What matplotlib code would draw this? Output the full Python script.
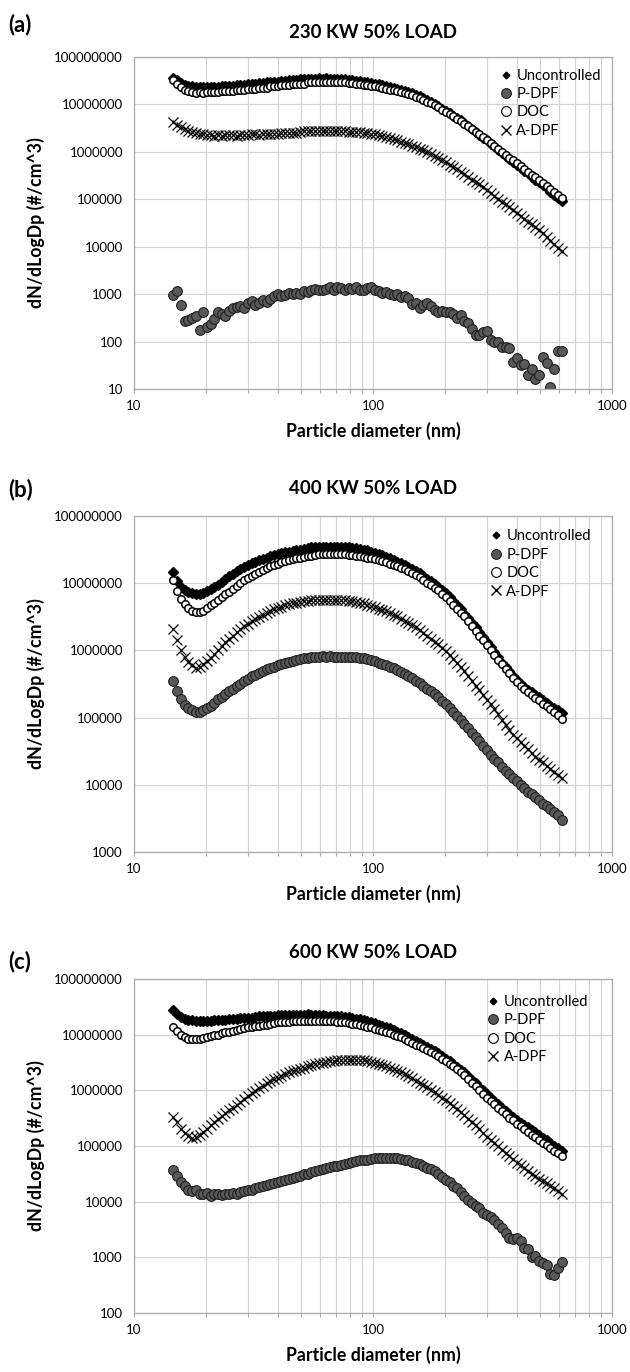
import matplotlib
matplotlib.use("Agg")
import matplotlib.pyplot as plt
from matplotlib.lines import Line2D
from matplotlib.ticker import FixedLocator, FuncFormatter, NullFormatter

plt.rcParams['font.family'] = ['Lato', 'DejaVu Sans']

# SMPS channel midpoints (nm)
diameter = [14.6, 15.1, 15.7, 16.3, 16.8, 17.5, 18.1, 18.8, 19.5, 20.2,
            20.9, 21.7, 22.5, 23.3, 24.1, 25.0, 25.9, 26.9, 27.9, 28.9,
            30.0, 31.1, 32.2, 33.4, 34.6, 35.9, 37.2, 38.5, 40.0, 41.4,
            42.9, 44.5, 46.1, 47.8, 49.6, 51.4, 53.3, 55.2, 57.3, 59.4,
            61.5, 63.8, 66.1, 68.5, 71.0, 73.7, 76.4, 79.1, 82.0, 85.1,
            88.2, 91.4, 94.7, 98.2, 101.8, 105.5, 109.4, 113.4, 117.6, 121.9,
            126.3, 131.0, 135.8, 140.7, 145.9, 151.2, 156.8, 162.5, 168.5, 174.7,
            181.1, 187.7, 194.6, 201.7, 209.1, 216.7, 224.7, 232.9, 241.4, 250.3,
            259.5, 269.0, 278.8, 289.0, 299.6, 310.6, 322.0, 333.8, 346.0, 358.7,
            371.8, 385.4, 399.5, 414.2, 429.4, 445.1, 461.4, 478.3, 495.8, 514.0,
            532.8, 552.3, 572.5, 593.5, 615.3]

series_names = ["Uncontrolled", "P-DPF", "DOC", "A-DPF"]

# ---- (a) 230 kW ----
unc_a = [3.6e7, 3.2e7, 2.8e7, 2.6e7, 2.5e7, 2.4e7, 2.35e7, 2.3e7, 2.3e7, 2.35e7,
         2.3e7, 2.35e7, 2.35e7, 2.4e7, 2.4e7, 2.45e7, 2.5e7, 2.55e7, 2.6e7, 2.6e7,
         2.7e7, 2.75e7, 2.75e7, 2.8e7, 2.8e7, 2.9e7, 2.9e7, 2.95e7, 2.95e7, 3.1e7,
         3.1e7, 3.2e7, 3.2e7, 3.2e7, 3.4e7, 3.4e7, 3.4e7, 3.5e7, 3.5e7, 3.55e7,
         3.5e7, 3.55e7, 3.5e7, 3.5e7, 3.45e7, 3.45e7, 3.4e7, 3.3e7, 3.3e7, 3.15e7,
         3.15e7, 3.0e7, 3.0e7, 2.8e7, 2.75e7, 2.65e7, 2.55e7, 2.45e7, 2.35e7, 2.25e7,
         2.15e7, 2.05e7, 1.95e7, 1.8e7, 1.7e7, 1.6e7, 1.5e7, 1.35e7, 1.25e7, 1.1e7,
         1.0e7, 9.1e6, 8.1e6, 7.2e6, 6.5e6, 5.8e6, 5.1e6, 4.6e6, 4.0e6, 3.5e6,
         3.0e6, 2.6e6, 2.3e6, 2.0e6, 1.74e6, 1.5e6, 1.3e6, 1.12e6, 9.5e5, 8.3e5,
         7.1e5, 6.2e5, 5.2e5, 4.6e5, 4.0e5, 3.5e5, 3.0e5, 2.6e5, 2.3e5, 2.0e5,
         1.7e5, 1.45e5, 1.26e5, 1.07e5, 9.1e4]
pdpf_a = [970, 1170, 600, 270, 280, 310, 340, 175, 420, 200,
          240, 300, 420, 380, 350, 450, 520, 540, 560, 520,
          640, 700, 600, 650, 760, 690, 780, 900, 1000, 900,
          950, 1050, 1000, 1080, 1000, 1150, 1100, 1200, 1300, 1250,
          1200, 1280, 1400, 1250, 1400, 1380, 1200, 1350, 1300, 1420,
          1200, 1250, 1350, 1400, 1250, 1150, 1050, 1100, 1000, 950,
          1000, 880, 900, 820, 620, 660, 520, 600, 640, 560,
          470, 430, 440, 420, 430, 380, 320, 370, 270, 250,
          180, 140, 140, 160, 165, 110, 100, 100, 75, 75,
          74, 38, 44, 32, 34, 20, 26, 16, 20, 48,
          36, 11, 26, 64, 64]
doc_a = [3.2e7, 2.7e7, 2.3e7, 2.05e7, 1.9e7, 1.8e7, 1.75e7, 1.8e7, 1.75e7, 1.8e7,
         1.85e7, 1.8e7, 1.85e7, 1.9e7, 1.9e7, 1.9e7, 1.9e7, 2.0e7, 2.0e7, 2.0e7,
         2.15e7, 2.15e7, 2.15e7, 2.25e7, 2.25e7, 2.25e7, 2.4e7, 2.4e7, 2.4e7, 2.55e7,
         2.55e7, 2.55e7, 2.7e7, 2.7e7, 2.7e7, 2.7e7, 2.9e7, 2.9e7, 3.0e7, 2.95e7,
         3.0e7, 2.95e7, 3.0e7, 2.95e7, 2.9e7, 2.9e7, 2.9e7, 2.8e7, 2.8e7, 2.7e7,
         2.7e7, 2.6e7, 2.6e7, 2.45e7, 2.4e7, 2.3e7, 2.25e7, 2.15e7, 2.05e7, 2.0e7,
         1.9e7, 1.8e7, 1.75e7, 1.65e7, 1.55e7, 1.45e7, 1.35e7, 1.26e7, 1.15e7, 1.05e7,
         9.5e6, 8.7e6, 7.8e6, 7.0e6, 6.3e6, 5.6e6, 5.0e6, 4.5e6, 3.9e6, 3.45e6,
         3.0e6, 2.65e6, 2.35e6, 2.05e6, 1.8e6, 1.55e6, 1.35e6, 1.17e6, 1.0e6, 8.7e5,
         7.6e5, 6.6e5, 5.7e5, 5.0e5, 4.4e5, 3.8e5, 3.3e5, 2.9e5, 2.5e5, 2.2e5,
         1.9e5, 1.65e5, 1.45e5, 1.25e5, 1.07e5]
adpf_a = [4.2e6, 3.7e6, 3.3e6, 3.0e6, 2.8e6, 2.65e6, 2.5e6, 2.4e6, 2.35e6, 2.3e6,
          2.25e6, 2.2e6, 2.25e6, 2.2e6, 2.25e6, 2.3e6, 2.25e6, 2.2e6, 2.25e6, 2.3e6,
          2.25e6, 2.35e6, 2.35e6, 2.3e6, 2.4e6, 2.35e6, 2.4e6, 2.35e6, 2.4e6, 2.5e6,
          2.5e6, 2.45e6, 2.55e6, 2.5e6, 2.6e6, 2.7e6, 2.75e6, 2.7e6, 2.8e6, 2.75e6,
          2.8e6, 2.75e6, 2.8e6, 2.8e6, 2.75e6, 2.75e6, 2.7e6, 2.65e6, 2.65e6, 2.6e6,
          2.6e6, 2.5e6, 2.45e6, 2.4e6, 2.35e6, 2.25e6, 2.15e6, 2.05e6, 1.95e6, 1.85e6,
          1.8e6, 1.65e6, 1.55e6, 1.45e6, 1.35e6, 1.26e6, 1.17e6, 1.07e6, 9.8e5, 8.9e5,
          8.1e5, 7.4e5, 6.8e5, 6.0e5, 5.4e5, 4.8e5, 4.3e5, 3.8e5, 3.4e5, 3.0e5,
          2.6e5, 2.3e5, 2.05e5, 1.8e5, 1.55e5, 1.35e5, 1.17e5, 1.02e5, 8.9e4, 7.8e4,
          6.8e4, 5.9e4, 5.1e4, 4.5e4, 3.9e4, 3.4e4, 2.95e4, 2.55e4, 2.2e4, 1.9e4,
          1.6e4, 1.35e4, 1.15e4, 9.6e3, 8.1e3]

# ---- (b) 400 kW ----
unc_b = [1.45e7, 1.07e7, 8.9e6, 7.9e6, 7.4e6, 7.1e6, 6.9e6, 6.9e6, 7.1e6, 7.6e6,
         8.1e6, 8.7e6, 9.5e6, 1.05e7, 1.15e7, 1.26e7, 1.38e7, 1.5e7, 1.6e7, 1.75e7,
         1.85e7, 2.0e7, 2.1e7, 2.2e7, 2.3e7, 2.4e7, 2.5e7, 2.6e7, 2.7e7, 2.8e7,
         2.9e7, 2.95e7, 3.0e7, 3.1e7, 3.15e7, 3.2e7, 3.3e7, 3.4e7, 3.4e7, 3.45e7,
         3.45e7, 3.4e7, 3.45e7, 3.4e7, 3.45e7, 3.4e7, 3.4e7, 3.4e7, 3.35e7, 3.3e7,
         3.2e7, 3.15e7, 3.1e7, 2.95e7, 2.8e7, 2.7e7, 2.6e7, 2.45e7, 2.35e7, 2.25e7,
         2.1e7, 2.0e7, 1.85e7, 1.75e7, 1.6e7, 1.5e7, 1.4e7, 1.3e7, 1.17e7, 1.07e7,
         9.8e6, 8.9e6, 7.9e6, 7.1e6, 6.2e6, 5.4e6, 4.7e6, 4.1e6, 3.5e6, 3.0e6,
         2.6e6, 2.2e6, 1.85e6, 1.6e6, 1.35e6, 1.12e6, 9.5e5, 8.1e5, 6.6e5, 5.6e5,
         4.9e5, 4.2e5, 3.6e5, 3.2e5, 2.9e5, 2.6e5, 2.4e5, 2.2e5, 2.0e5, 1.8e5,
         1.66e5, 1.5e5, 1.4e5, 1.3e5, 1.17e5]
pdpf_b = [3.5e5, 2.5e5, 1.86e5, 1.55e5, 1.38e5, 1.29e5, 1.2e5, 1.23e5, 1.29e5, 1.38e5,
          1.5e5, 1.66e5, 1.86e5, 2.05e5, 2.25e5, 2.45e5, 2.7e5, 2.95e5, 3.2e5, 3.5e5,
          3.8e5, 4.1e5, 4.35e5, 4.65e5, 5.0e5, 5.25e5, 5.5e5, 5.75e5, 6.0e5, 6.3e5,
          6.6e5, 6.8e5, 7.0e5, 7.2e5, 7.4e5, 7.6e5, 7.8e5, 7.9e5, 8.1e5, 8.1e5,
          8.2e5, 8.1e5, 8.2e5, 8.1e5, 8.1e5, 8.1e5, 8.0e5, 8.1e5, 8.0e5, 7.9e5,
          7.8e5, 7.6e5, 7.4e5, 7.2e5, 6.9e5, 6.6e5, 6.3e5, 6.0e5, 5.75e5, 5.5e5,
          5.1e5, 4.8e5, 4.5e5, 4.2e5, 3.9e5, 3.55e5, 3.25e5, 2.95e5, 2.7e5, 2.45e5,
          2.25e5, 2.0e5, 1.78e5, 1.6e5, 1.4e5, 1.23e5, 1.07e5, 9.3e4, 8.1e4, 7.1e4,
          6.0e4, 5.2e4, 4.5e4, 3.8e4, 3.3e4, 2.8e4, 2.45e4, 2.15e4, 1.86e4, 1.62e4,
          1.45e4, 1.26e4, 1.12e4, 1.0e4, 8.9e3, 7.9e3, 7.2e3, 6.5e3, 5.9e3, 5.2e3,
          4.8e3, 4.3e3, 3.9e3, 3.5e3, 3.0e3]
doc_b = [1.1e7, 7.6e6, 5.8e6, 4.9e6, 4.3e6, 3.9e6, 3.7e6, 3.7e6, 3.9e6, 4.3e6,
         4.7e6, 5.1e6, 5.6e6, 6.2e6, 6.8e6, 7.4e6, 8.3e6, 9.1e6, 1.0e7, 1.1e7,
         1.2e7, 1.3e7, 1.38e7, 1.48e7, 1.58e7, 1.7e7, 1.78e7, 1.86e7, 1.95e7, 2.04e7,
         2.14e7, 2.2e7, 2.3e7, 2.35e7, 2.4e7, 2.45e7, 2.5e7, 2.55e7, 2.6e7, 2.7e7,
         2.7e7, 2.7e7, 2.7e7, 2.7e7, 2.7e7, 2.7e7, 2.7e7, 2.65e7, 2.6e7, 2.55e7,
         2.5e7, 2.45e7, 2.4e7, 2.35e7, 2.3e7, 2.2e7, 2.15e7, 2.05e7, 1.95e7, 1.85e7,
         1.78e7, 1.7e7, 1.62e7, 1.5e7, 1.4e7, 1.32e7, 1.23e7, 1.12e7, 1.02e7, 9.3e6,
         8.5e6, 7.8e6, 6.9e6, 6.2e6, 5.5e6, 4.8e6, 4.2e6, 3.6e6, 3.2e6, 2.7e6,
         2.3e6, 1.95e6, 1.66e6, 1.41e6, 1.2e6, 1.0e6, 8.5e5, 7.2e5, 6.2e5, 5.2e5,
         4.6e5, 3.9e5, 3.4e5, 3.0e5, 2.7e5, 2.4e5, 2.2e5, 1.95e5, 1.8e5, 1.6e5,
         1.5e5, 1.35e5, 1.23e5, 1.1e5, 9.5e4]
adpf_b = [2.1e6, 1.45e6, 1.02e6, 8.1e5, 6.8e5, 6.0e5, 5.5e5, 5.6e5, 6.2e5, 6.9e5,
          7.8e5, 8.9e5, 1.02e6, 1.17e6, 1.32e6, 1.48e6, 1.66e6, 1.86e6, 2.1e6, 2.3e6,
          2.5e6, 2.75e6, 2.95e6, 3.15e6, 3.4e6, 3.6e6, 3.8e6, 4.1e6, 4.25e6, 4.45e6,
          4.7e6, 4.9e6, 5.0e6, 5.15e6, 5.25e6, 5.35e6, 5.5e6, 5.6e6, 5.6e6, 5.65e6,
          5.6e6, 5.65e6, 5.6e6, 5.6e6, 5.6e6, 5.55e6, 5.6e6, 5.5e6, 5.4e6, 5.25e6,
          5.1e6, 5.0e6, 4.8e6, 4.6e6, 4.4e6, 4.2e6, 4.0e6, 3.8e6, 3.6e6, 3.4e6,
          3.2e6, 2.95e6, 2.75e6, 2.55e6, 2.35e6, 2.2e6, 2.0e6, 1.8e6, 1.66e6, 1.5e6,
          1.35e6, 1.23e6, 1.1e6, 9.8e5, 8.5e5, 7.4e5, 6.5e5, 5.6e5, 4.9e5, 4.2e5,
          3.5e5, 3.0e5, 2.6e5, 2.2e5, 1.85e5, 1.6e5, 1.35e5, 1.15e5, 9.1e4, 7.8e4,
          6.6e4, 5.6e4, 4.9e4, 4.3e4, 3.8e4, 3.4e4, 3.0e4, 2.6e4, 2.35e4, 2.15e4,
          1.9e4, 1.74e4, 1.55e4, 1.38e4, 1.26e4]

# ---- (c) 600 kW ----
unc_c = [2.8e7, 2.35e7, 2.1e7, 1.95e7, 1.86e7, 1.8e7, 1.78e7, 1.75e7, 1.78e7, 1.75e7,
         1.78e7, 1.8e7, 1.8e7, 1.8e7, 1.82e7, 1.9e7, 1.9e7, 1.9e7, 2.0e7, 2.0e7,
         2.0e7, 2.0e7, 2.05e7, 2.15e7, 2.15e7, 2.15e7, 2.15e7, 2.2e7, 2.25e7, 2.25e7,
         2.25e7, 2.25e7, 2.25e7, 2.25e7, 2.3e7, 2.3e7, 2.35e7, 2.3e7, 2.3e7, 2.3e7,
         2.3e7, 2.2e7, 2.2e7, 2.2e7, 2.2e7, 2.15e7, 2.1e7, 2.05e7, 2.0e7, 1.95e7,
         1.9e7, 1.82e7, 1.75e7, 1.68e7, 1.6e7, 1.5e7, 1.45e7, 1.35e7, 1.3e7, 1.2e7,
         1.12e7, 1.05e7, 9.8e6, 9.1e6, 8.3e6, 7.8e6, 7.1e6, 6.5e6, 6.0e6, 5.5e6,
         5.0e6, 4.6e6, 4.2e6, 3.7e6, 3.3e6, 2.95e6, 2.6e6, 2.35e6, 2.1e6, 1.8e6,
         1.55e6, 1.35e6, 1.15e6, 1.0e6, 8.5e5, 7.4e5, 6.5e5, 5.6e5, 4.9e5, 4.3e5,
         3.7e5, 3.3e5, 2.9e5, 2.6e5, 2.35e5, 2.15e5, 1.9e5, 1.75e5, 1.55e5, 1.4e5,
         1.26e5, 1.15e5, 1.02e5, 9.3e4, 8.3e4]
pdpf_c = [3.7e4, 2.9e4, 2.3e4, 1.9e4, 1.65e4, 1.55e4, 1.6e4, 1.4e4, 1.38e4, 1.45e4,
          1.25e4, 1.35e4, 1.4e4, 1.3e4, 1.4e4, 1.35e4, 1.45e4, 1.4e4, 1.5e4, 1.55e4,
          1.6e4, 1.65e4, 1.75e4, 1.8e4, 1.9e4, 2.0e4, 2.1e4, 2.15e4, 2.3e4, 2.35e4,
          2.45e4, 2.55e4, 2.65e4, 2.8e4, 2.9e4, 3.1e4, 3.2e4, 3.4e4, 3.55e4, 3.7e4,
          3.9e4, 4.0e4, 4.2e4, 4.3e4, 4.45e4, 4.6e4, 4.8e4, 4.9e4, 5.1e4, 5.3e4,
          5.5e4, 5.6e4, 5.7e4, 5.9e4, 6.0e4, 6.1e4, 6.2e4, 6.2e4, 6.1e4, 6.0e4,
          6.0e4, 5.8e4, 5.7e4, 5.5e4, 5.2e4, 5.0e4, 4.7e4, 4.4e4, 4.1e4, 3.8e4,
          3.5e4, 3.1e4, 2.8e4, 2.5e4, 2.25e4, 1.95e4, 1.75e4, 1.5e4, 1.25e4, 1.05e4,
          9.3e3, 8.3e3, 7.6e3, 6.2e3, 5.7e3, 5.2e3, 4.7e3, 4.0e3, 3.4e3, 2.7e3,
          2.2e3, 2.1e3, 2.2e3, 2.0e3, 1.5e3, 1.4e3, 1.0e3, 1.05e3, 850, 780,
          720, 500, 490, 650, 820]
doc_c = [1.4e7, 1.15e7, 1.0e7, 8.9e6, 8.5e6, 8.3e6, 8.3e6, 8.5e6, 8.7e6, 9.1e6,
         9.3e6, 9.8e6, 1.0e7, 1.05e7, 1.1e7, 1.12e7, 1.17e7, 1.2e7, 1.26e7, 1.3e7,
         1.35e7, 1.38e7, 1.41e7, 1.45e7, 1.48e7, 1.51e7, 1.58e7, 1.62e7, 1.66e7, 1.66e7,
         1.7e7, 1.72e7, 1.75e7, 1.75e7, 1.78e7, 1.75e7, 1.78e7, 1.78e7, 1.75e7, 1.78e7,
         1.75e7, 1.78e7, 1.75e7, 1.75e7, 1.72e7, 1.7e7, 1.66e7, 1.62e7, 1.58e7, 1.55e7,
         1.51e7, 1.45e7, 1.38e7, 1.35e7, 1.29e7, 1.23e7, 1.17e7, 1.12e7, 1.07e7, 1.0e7,
         9.5e6, 8.9e6, 8.3e6, 7.8e6, 7.2e6, 6.6e6, 6.2e6, 5.75e6, 5.25e6, 4.9e6,
         4.5e6, 4.1e6, 3.7e6, 3.4e6, 3.0e6, 2.7e6, 2.4e6, 2.1e6, 1.86e6, 1.62e6,
         1.38e6, 1.2e6, 1.02e6, 8.7e5, 7.4e5, 6.5e5, 5.6e5, 4.9e5, 4.3e5, 3.7e5,
         3.2e5, 2.9e5, 2.5e5, 2.25e5, 2.0e5, 1.78e5, 1.58e5, 1.45e5, 1.29e5, 1.15e5,
         1.05e5, 9.3e4, 8.3e4, 7.4e4, 6.6e4]
adpf_c = [3.3e5, 2.7e5, 2.05e5, 1.74e5, 1.5e5, 1.41e5, 1.45e5, 1.58e5, 1.78e5, 2.05e5,
          2.35e5, 2.7e5, 3.1e5, 3.5e5, 3.9e5, 4.4e5, 4.9e5, 5.5e5, 6.2e5, 7.1e5,
          7.9e5, 8.9e5, 9.8e5, 1.1e6, 1.2e6, 1.35e6, 1.48e6, 1.58e6, 1.7e6, 1.82e6,
          1.95e6, 2.1e6, 2.2e6, 2.35e6, 2.45e6, 2.55e6, 2.7e6, 2.8e6, 2.95e6, 3.1e6,
          3.15e6, 3.25e6, 3.3e6, 3.4e6, 3.45e6, 3.55e6, 3.55e6, 3.5e6, 3.55e6, 3.55e6,
          3.5e6, 3.45e6, 3.4e6, 3.25e6, 3.1e6, 2.95e6, 2.8e6, 2.7e6, 2.55e6, 2.4e6,
          2.25e6, 2.1e6, 1.95e6, 1.82e6, 1.66e6, 1.5e6, 1.38e6, 1.26e6, 1.15e6, 1.02e6,
          9.3e5, 8.3e5, 7.4e5, 6.6e5, 5.9e5, 5.25e5, 4.6e5, 4.1e5, 3.55e5, 3.1e5,
          2.7e5, 2.35e5, 2.0e5, 1.74e5, 1.48e5, 1.29e5, 1.12e5, 9.8e4, 8.5e4, 7.4e4,
          6.5e4, 5.75e4, 5.0e4, 4.5e4, 4.0e4, 3.55e4, 3.2e4, 2.9e4, 2.6e4, 2.35e4,
          2.15e4, 1.9e4, 1.74e4, 1.55e4, 1.38e4]

panel_tags = ["(a)", "(b)", "(c)"]
panel_titles = ["230 KW 50% LOAD", "400 KW 50% LOAD", "600 KW 50% LOAD"]
panel_yticks = [[10, 100, 1000, 1e4, 1e5, 1e6, 1e7, 1e8],
                [1000, 1e4, 1e5, 1e6, 1e7, 1e8],
                [100, 1000, 1e4, 1e5, 1e6, 1e7, 1e8]]
x_major = [10, 100, 1000]
x_minor = [20, 30, 40, 50, 60, 70, 80, 90, 200, 300, 400, 500, 600, 700, 800, 900]
panel_data = [(unc_a, pdpf_a, doc_a, adpf_a),
              (unc_b, pdpf_b, doc_b, adpf_b),
              (unc_c, pdpf_c, doc_c, adpf_c)]

W, H = 630, 1372
fig = plt.figure(figsize=(W / 100, H / 100), dpi=100)

# layout in pixels: axes top/bottom, title y, tag y, legend anchor
ax_left, ax_right = 134, 612
layout = [
    dict(top=57, bottom=389, title=33, tag=25, leg=(0.765, 0.965)),
    dict(top=516, bottom=852, title=488, tag=490, leg=(0.744, 0.96)),
    dict(top=979, bottom=1313, title=952, tag=962, leg=(0.738, 0.952)),
]

styles = [
    dict(marker="D", ms=4.6, color="black", mec="black", ls="none"),
    dict(marker="o", ms=7, mfc="#595959", mec="#1f1f1f", mew=0.8, ls="none"),
    dict(marker="o", ms=5.4, mfc="white", mec="black", mew=1.1, ls="none"),
    dict(marker="x", ms=6.5, color="black", mew=0.9, ls="none"),
]
legend_handles = [
    Line2D([], [], marker="D", ms=3.4, color="black", ls="none"),
    Line2D([], [], marker="o", ms=7, mfc="#595959", mec="#1f1f1f", mew=0.8, ls="none"),
    Line2D([], [], marker="o", ms=7, mfc="white", mec="black", mew=0.8, ls="none"),
    Line2D([], [], marker="x", ms=7, color="black", mew=1.0, ls="none"),
]

grid_col = "#d4d4d4"
spine_col = "#ababab"
int_fmt = FuncFormatter(lambda v, p: f"{int(round(v))}")

for k in range(3):
    L = layout[k]
    yt = panel_yticks[k]
    ax = fig.add_axes([ax_left / W, 1 - L["bottom"] / H,
                       (ax_right - ax_left) / W, (L["bottom"] - L["top"]) / H])
    for name, ys, st in zip(series_names, panel_data[k], styles):
        ax.plot(diameter, ys, label=name, **st)

    ax.set_xscale("log")
    ax.set_yscale("log")
    ax.set_xlim(x_major[0], x_major[-1])
    ax.set_ylim(yt[0], yt[-1])
    ax.xaxis.set_major_locator(FixedLocator(x_major))
    ax.xaxis.set_minor_locator(FixedLocator(x_minor))
    ax.xaxis.set_minor_formatter(NullFormatter())
    ax.xaxis.set_major_formatter(int_fmt)
    ax.yaxis.set_major_locator(FixedLocator(yt))
    ax.yaxis.set_minor_locator(FixedLocator([]))
    ax.yaxis.set_major_formatter(int_fmt)

    ax.grid(True, which="major", color=grid_col, lw=0.9)
    ax.grid(True, which="minor", axis="x", color=grid_col, lw=0.9)
    ax.set_axisbelow(True)
    for s in ax.spines.values():
        s.set_color(spine_col)
        s.set_linewidth(0.9)

    ax.tick_params(axis="y", which="both", length=0, pad=8, labelsize=9.5)
    ax.tick_params(axis="x", which="both", length=3, width=0.8, color=spine_col,
                   pad=5, labelsize=9.5)

    ax.legend(legend_handles, series_names, loc="upper left",
              bbox_to_anchor=L["leg"], frameon=False,
              fontsize=10.5, handlelength=0.9, handletextpad=0.25,
              labelspacing=0.3, borderpad=0, borderaxespad=0, numpoints=1)

    fig.text(373 / W, 1 - L["title"] / H, panel_titles[k], ha="center", va="center",
             fontsize=13.5, fontweight="bold")
    fig.text(8 / W, 1 - L["tag"] / H, panel_tags[k], ha="left", va="center",
             fontsize=16, fontweight="bold")
    fig.text(36 / W, 1 - (L["top"] + L["bottom"]) / 2 / H, "dN/dLogDp (#/cm^3)",
             rotation=90, ha="center", va="center", fontsize=12.8, fontweight="bold")
    fig.text(373 / W, 1 - (L["bottom"] + 42) / H, "Particle diameter (nm)",
             ha="center", va="center", fontsize=12.8, fontweight="bold")

fig.savefig("out.png", dpi=100)
